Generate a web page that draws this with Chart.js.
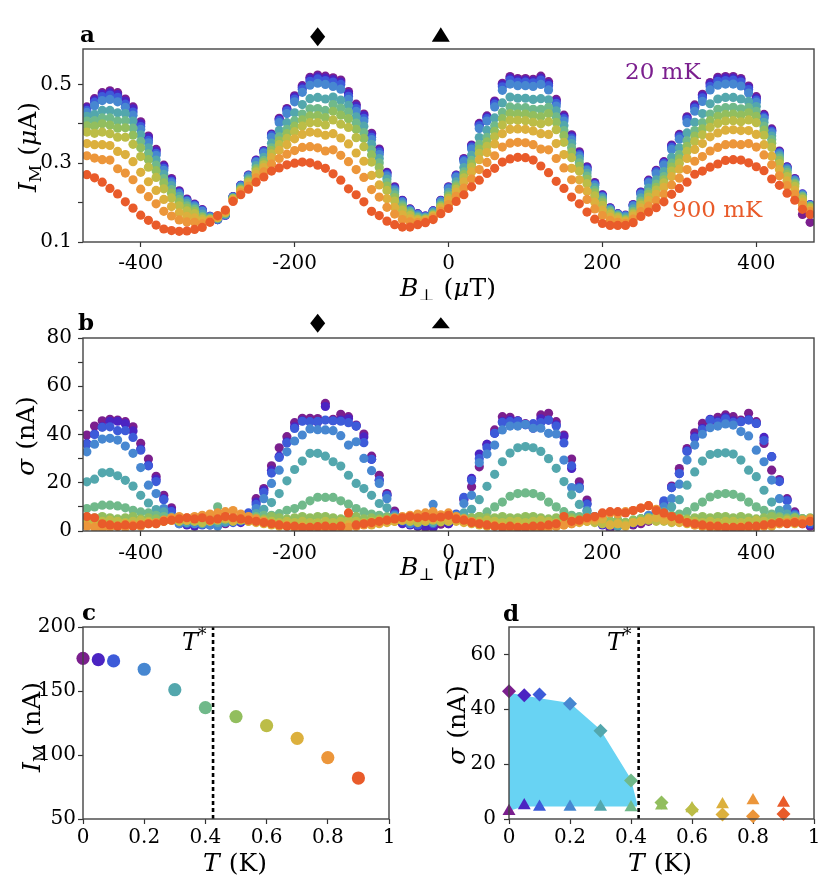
<!DOCTYPE html>
<html>
<head>
<meta charset="utf-8">
<script src="https://cdn.jsdelivr.net/npm/chart.js@4.4.1/dist/chart.umd.min.js"></script>
<style>
  html, body { margin: 0; padding: 0; background: #fff; }
  body { width: 830px; height: 887px; position: relative; overflow: hidden; }
  canvas { position: absolute; }
</style>
</head>
<body>
<canvas id="panelA" width="830" height="300" style="left:0;top:0;width:830px;height:300px"></canvas>
<canvas id="panelB" width="830" height="290" style="left:0;top:300px;width:830px;height:290px"></canvas>
<canvas id="panelC" width="410" height="297" style="left:0;top:590px;width:410px;height:297px"></canvas>
<canvas id="panelD" width="420" height="297" style="left:410px;top:590px;width:420px;height:297px"></canvas>
<script>
// field sweep (µT), shared by panels a and b
const fieldB = [-470,-460,-450,-440,-430,-420,-410,-400,-390,-380,-370,-360,-350,-340,-330,-320,-310,-300,-290,-280,
  -270,-260,-250,-240,-230,-220,-210,-200,-190,-180,-170,-160,-150,-140,-130,-120,-110,-100,-90,-80,
  -70,-60,-50,-40,-30,-20,-10,0,10,20,30,40,50,60,70,80,90,100,110,120,
  130,140,150,160,170,180,190,200,210,220,230,240,250,260,270,280,290,300,310,320,
  330,340,350,360,370,380,390,400,410,420,430,440,450,460,470];

// temperatures (mK) and their colours
const tempsMK = [20, 50, 100, 200, 300, 400, 500, 600, 700, 800, 900];
const tempsK = [0, 0.05, 0.1, 0.2, 0.3, 0.4, 0.5, 0.6, 0.7, 0.8, 0.9];
const tempColors = ['#7b1f8e', '#4b24c2', '#3d5bd9', '#4787d1', '#53a7ad', '#70b98a',
  '#92be5e', '#bcbd47', '#dcb03d', '#ec963a', '#e95b2a'];

// panel a: I_M (nA) vs B, one array per temperature
const im20 = [443,464,479,484,479,463,443,405,369,335,295,261,230,209,196,182,165,157,168,215,244,270,308,332,374,414,439,471,497,518,524,521,517,511,482,450,425,376,336,277,240,206,184,172,166,179,206,240,270,312,346,401,420,458,503,520,515,515,513,521,507,462,422,372,329,291,251,220,187,172,168,195,227,257,282,304,346,373,418,448,475,505,518,520,520,515,496,469,424,387,331,291,261,170,150];
const im50 = [440,460,475,479,474,458,438,400,365,331,292,258,228,207,195,181,165,157,168,215,244,269,307,331,372,411,436,468,493,514,519,516,512,506,477,445,421,372,333,275,238,205,183,171,166,179,205,239,269,310,344,398,417,455,499,516,511,511,509,516,502,458,418,369,326,289,249,219,186,171,167,194,226,255,280,302,344,370,415,444,471,501,514,516,516,511,492,465,421,384,329,290,260,222,195];
const im100 = [434,455,469,473,467,450,430,393,358,325,287,254,225,205,193,180,164,157,169,214,243,268,305,329,370,408,433,463,488,508,514,510,506,500,470,439,414,366,328,271,235,203,182,171,165,178,204,238,267,308,341,395,413,450,494,511,506,506,504,511,497,452,413,364,322,285,246,216,185,171,167,193,224,253,278,299,340,367,411,440,466,495,508,510,511,506,487,460,417,381,327,288,258,221,194];
const im200 = [429,446,459,462,456,442,422,386,352,320,282,250,222,203,191,178,164,158,169,214,242,267,303,326,366,403,426,456,480,498,503,500,495,488,462,432,407,360,322,267,232,201,180,169,164,177,203,235,264,304,336,388,407,443,485,501,497,497,495,500,486,445,407,359,318,282,244,214,183,170,166,191,221,250,273,295,335,361,403,432,457,486,498,501,501,496,478,455,413,377,324,286,257,220,193];
const im300 = [419,424,434,434,428,426,407,372,339,308,272,243,216,198,187,171,161,160,171,212,238,261,294,315,351,383,403,428,449,464,467,463,468,460,447,418,394,348,312,260,227,196,178,165,162,174,198,226,253,289,320,365,384,415,453,468,465,465,462,464,461,433,396,350,311,275,238,210,181,168,162,184,212,237,258,279,315,339,377,404,426,451,463,467,467,463,457,444,404,369,319,282,253,217,192];
const im400 = [407,408,415,415,407,408,389,355,324,295,261,233,208,192,183,165,159,161,173,211,235,257,287,307,339,367,386,408,425,438,439,434,449,440,430,402,378,334,301,251,220,192,174,162,160,171,193,220,245,278,307,348,366,395,429,443,441,441,437,437,442,418,383,339,301,267,231,205,178,166,158,178,204,227,247,266,300,322,357,383,403,425,437,441,442,438,441,432,394,360,313,277,249,215,190];
const im500 = [395,394,400,397,389,390,371,339,309,281,250,224,201,186,178,162,158,162,174,210,233,254,283,302,332,357,375,394,410,420,421,416,432,422,413,386,363,321,289,242,213,187,171,159,158,169,191,215,240,271,298,336,354,381,413,426,425,425,421,418,426,404,370,328,292,259,225,200,174,164,156,174,199,221,239,258,290,311,343,369,387,408,419,424,425,422,428,419,384,351,307,272,246,212,188];
const im600 = [379,376,379,375,366,366,348,317,290,264,235,212,192,179,172,158,157,162,175,209,231,251,278,296,324,347,363,380,394,403,403,397,410,399,391,365,342,303,273,231,204,181,167,157,157,167,188,211,234,263,290,325,343,367,397,409,409,408,404,400,405,385,353,314,280,248,217,193,170,161,154,171,194,214,232,250,280,300,330,355,372,391,401,407,408,405,410,403,371,340,299,266,241,208,186];
const im700 = [350,347,347,345,330,322,304,277,253,231,208,190,174,165,161,153,155,163,176,207,229,247,272,289,314,333,347,362,373,379,377,371,375,364,349,326,305,269,245,210,188,169,159,154,155,165,184,205,227,253,278,309,327,349,375,386,387,386,382,375,373,350,322,287,258,229,201,181,163,156,151,166,187,205,221,239,266,285,312,335,350,367,377,384,385,383,383,373,347,318,284,255,231,201,181];
const im800 = [319,313,309,308,286,275,258,234,215,197,178,166,156,151,150,146,153,165,179,205,225,241,263,278,298,312,323,332,340,342,339,331,334,320,304,284,264,233,214,188,171,157,151,149,152,161,178,195,216,237,260,284,302,319,341,351,353,352,347,336,334,312,288,258,234,208,184,167,155,150,147,158,177,191,205,221,245,262,284,305,317,331,340,347,349,347,350,341,321,296,268,243,221,194,177];
const im900 = [271,263,252,236,222,202,186,168,155,143,133,129,127,128,132,137,150,167,181,203,220,234,252,265,280,288,296,300,303,301,295,287,273,257,235,220,202,178,167,153,144,138,138,144,149,157,172,185,203,220,240,257,274,287,303,311,315,314,308,293,276,254,236,214,197,176,158,147,142,142,142,149,165,176,187,202,221,236,252,272,280,290,298,307,309,308,301,291,281,260,244,224,206,183,170];

// panel b: sigma (nA) vs B, one array per temperature
const sg20 = [39.8,43.5,45.7,46.3,46.0,45.3,43.2,36.3,29.8,22.7,14.8,9.6,4,3,3,3,3,2.5,3,4,4,5,13.4,17.6,27,34.5,39.1,44.9,46.7,46.7,46.6,52.9,46.3,48.4,47.4,43.9,40.2,31,23.1,15.5,8.3,4,3,2,1.5,1.5,2.8,3,5,13,18.3,26.6,35.9,41.9,47.4,47.1,45.7,44.5,43,48.1,48.8,45.3,39.8,29.8,20.4,12.8,5,3,1,2,3,2.5,3,4,6,11.1,18.6,25.9,34.2,40.7,44.6,45.3,47.1,48.1,47.4,46,48.8,45.3,36.3,25.2,21.3,13.4,7.9,3,2];
const sg50 = [36.3,40.2,43.2,45.5,45.5,44.5,41.5,34,27.3,21.5,13.4,8.6,3,2.5,2,3,2.5,3,3.5,4,3.5,6,12,16.9,25.2,31,37,43.2,45.7,45.3,45.2,51.6,45.7,46,46.5,43.5,39,29.7,21,14.8,7.2,3,2.5,2,2,1.5,4.8,3,6,13.4,21.8,31.9,35.9,40.5,45.3,46,45.7,44.2,42.6,46.5,46,44,39.1,25.9,18.3,11.4,4,2.5,2,3,2.5,3,4,5,7.9,12,18,23.8,33.3,39.1,42.6,46.3,45.7,47.1,45.7,45.3,46.3,44.6,38.8,30.8,20.8,12.8,7,3.5,2.5];
const sg100 = [36,40,43,43.2,41.6,41.6,38.8,33.5,27,20.5,13,8,4,3,3,2.5,3,3,4,3.5,4,7.5,11,16,24,30.5,36.5,42.5,45.5,45.3,45.4,46,45.7,45.5,44.9,43.5,36.6,29.7,21,14.8,7,4,3,2.5,5,3,4.4,4,7,14,21,30,34.5,40.5,45,45.3,45.5,44,44.5,44.9,46,43.5,36.5,27,18,11,6,3,2.5,2.5,3,4,5,6,8,12.5,18,23.8,33,38.5,42,46,45,46.5,45,45.3,46,44.6,37.5,30.8,20.5,12.5,7,4.5,3];
const sg200 = [32.8,36,38.1,38.4,37.7,35.2,32.2,26.3,19,15.5,9.3,6,3,4,3,3,2.5,2,3.5,4,4.5,6,9.3,13.4,19.7,25.2,32.8,37.3,39.8,42.3,42,41.9,41.6,39.5,35.6,37,30.1,25,19.7,13.4,6.5,4.5,3,4,4,11,4.4,4,6.5,11.4,14.8,28.3,31.9,35.6,41.9,43.5,43.5,44.2,42.6,42.6,40.5,40.2,29.4,18,17.6,8.6,5,3,3.5,2,3,3.5,4.5,6.5,7,10,13.4,19.4,29.4,35.6,40.1,42.8,43.5,44.4,43.9,41.2,39.4,33.5,28.7,21.1,13.4,9.3,6.5,5,4];
const sg300 = [20.4,21.5,24.1,24.3,22.9,21,18.6,14.8,11.6,8.9,7.9,5,4,3.5,4,3,4,3.5,4,4.5,5,5.5,7.2,9,11.8,15.5,20.8,25.5,29,32.2,32.2,31,28.7,26.9,23.1,19.7,17.6,14.8,11.4,9.6,6,5,4,4.5,4,3.5,4.4,5,6,7.5,9,13,18.5,23.5,28.7,32.3,34.5,35,34.5,33,30,26,20.5,15,11,8,6,4,4,2,3,4,5,5.5,6,8,10,13,19,24.5,29,31.7,32.2,32.4,31.9,29.4,25.2,22.5,16.9,12,8.6,7,6,5,4.5];
const sg400 = [9.3,10,10.7,10.7,10.4,9.6,8.6,7.9,7.5,6.5,6,5.5,5.5,5,5.5,5,6,10,5.5,5,5.5,5.5,6,6.5,6.5,7.2,8.6,9.3,10.7,12.5,14,13.9,13.9,12.5,11.1,9.3,7.9,7,6.5,6,5.5,5.5,5,5,5.5,6,4.2,5,5.5,5.5,5.5,6,7.9,10,12,14.4,15.5,15.8,15.5,14.4,12,10,8,6.5,6,5.5,5.5,5,4,4.5,3.5,4.5,5,5.5,6,6.5,6.5,7,8,10,12,14.1,15.2,15.5,15.2,14.1,12,10,8.6,7,6,5.5,5.5,5,5];
const sg500 = [5,5.5,6,5.5,5,5.5,6,5,5.5,5,4.5,5,5,4.5,5.5,6,5,5.5,5,4.5,5,5.5,5.5,5,6,5.5,5,5.5,6,5.5,6,6,5.5,5,5.5,6,5,5.5,5,5.5,5,5,5.5,6,5.5,5,4.8,6,5.5,5,5.5,6,5.5,5.5,6,5.5,5.5,6,6,5.5,5,5.5,6,5.5,5,5.5,5,5.5,4,4.5,3.5,4.5,5,5.5,5,5.5,6,5.5,5,5.5,6,5.5,6,6,5.5,6,5.5,5,5.5,6,5.5,5,5.5,5,5.5];
const sg600 = [4,3.5,4,4.5,4,3.5,4,4.5,4,3.5,4,4.5,4,4.5,4,3.5,4,4.5,5,4,4.5,4,4,4.5,4,3.5,4,3.5,4,3.5,3.4,4,3.5,4,4.5,4,3.5,4,4.5,4,4,4.5,4,3.5,4,4.5,3.8,4,4.5,4,3.5,4,4.5,4,3.5,4,4,3.5,4,4.5,4,3.5,4,4.5,4,4,3.5,3,2.5,3,2.5,3.5,4,4.5,4,4,3.5,4,4.5,4,3.5,4,3.5,4,4,3.5,4,4.5,4,3.5,4,4.5,4,3.5,4];
const sg700 = [2.5,2,3,2.5,2,3,2.5,3,3.5,3,4,4.5,5,4.5,5,5.5,4.5,5,5.5,4.5,5,4,3.5,3,2.5,2,2.5,1.5,2,1.5,1.6,2,1.5,2,2.5,2,3,2.5,3,3.5,4,4.5,5,5.5,4.5,5,5.3,4.5,4,3.5,3,2.5,2,2.5,2,1.5,2,1.5,1.5,2,2.5,2,2.5,3,3.5,4,4.5,5,2.5,3,2,3.5,4,5,5.5,4.5,4,3.5,3,2.5,2,2.5,2,1.5,1.5,2,1.5,2,2.5,2,3,3.5,3,3.5,4];
const sg800 = [2,1.5,1,1.5,2,1.5,2.5,2,3,3.5,4.5,5.5,6,5.5,6,6.5,7,7.5,8,8.5,7,6,5,4,3,2.5,2,1.5,1,1.5,1,1,1.5,1,1.5,2,2.5,3,3.5,4.5,5.5,6,6.5,7,7.5,8,6.7,7.5,6,5,4,3,2.5,2,1.5,1,1,1.5,1,1,1.5,2,2.5,3,4,5,5.5,7,7.5,7,8,8.5,9.5,10.5,9,7,6,5,3.5,2.5,2,1.5,1,1,1.5,1,1,1.5,2,2.5,3,3.5,4,4.5,5];
const sg900 = [6,5.5,3,2.5,2,2.5,2,2.5,3,3,4,4.5,5,5.5,5,5.5,4.5,5,6,5.5,5,4.5,4,3.5,3,2.5,2,2,1.5,1.5,1.8,2,1.5,2,7.5,2.5,3,3.5,4,4.5,5,5.5,6,5.5,6,5.5,5.8,6.5,5,4.5,3.5,3,2.5,2,1.5,2,1.5,1.5,2,2,2.5,3,6,4,4.5,5.5,6,7.5,8,8,7.5,8.5,9.5,10.5,8.5,7.5,6,5,3.5,3,2.5,2,2,1.5,1.5,1.5,2,2,2.5,3,3.5,3,3.5,3,4];

// panel c: mean current vs T (nA)
const imVsT = [175.5, 174.5, 173.5, 167, 151, 137, 130, 123, 113, 98, 82];
// panel d: sigma at the diamond field and at the triangle field (nA)
const sigmaDiamond = [46.6, 45.1, 45.4, 42, 32.2, 14, 6, 3.4, 1.6, 1, 1.8];
const sigmaTriangle = [2.8, 4.9, 4.4, 4.4, 4.4, 4.2, 4.8, 3.8, 5.3, 6.7, 5.8];
// shaded band in panel d
const bandT = [0, 0.05, 0.1, 0.2, 0.3, 0.4, 0.42];
const bandHigh = [46, 45, 44, 42.3, 32.5, 14.5, 5.6];
const bandLow = [3, 4.6, 4.6, 4.6, 4.6, 4.6, 4.6];
const tStar = 0.425;
const diamondField = -170;
const triangleField = -10;

// ticks
const fieldTicks = [-400, -200, 0, 200, 400];
const imTicks = [0.1, 0.2, 0.3, 0.4, 0.5];
const imTickLabels = [0.1, 0.3, 0.5];
const sigmaTicks = [0, 10, 20, 30, 40, 50, 60, 70, 80];
const sigmaTickLabels = [0, 20, 40, 60, 80];
const tTicks = [0, 0.2, 0.4, 0.6, 0.8, 1];
const imTTicks = [50, 100, 150, 200];
const sigmaTTicks = [0, 20, 40, 60];

const SERIF = '"DejaVu Serif", "Liberation Serif", serif';
const font = (style, size) => `${style} ${size}px ${SERIF}`;

function scaleOpts(o) {
  return {
    type: 'linear',
    min: o.min,
    max: o.max,
    afterBuildTicks: (s) => { s.ticks = o.ticks.map((v) => ({ value: v })); },
    afterFit: (s) => { if (o.horizontal) s.height = o.fit; else s.width = o.fit; },
    ticks: {
      autoSkip: false,
      maxRotation: 0,
      color: '#000',
      font: { family: SERIF, size: o.fontSize || 20 },
      padding: o.pad,
      callback: (v) => (!o.labels || o.labels.includes(v) ? String(v) : ''),
    },
    grid: { drawOnChartArea: false, drawTicks: true, tickLength: 5, tickColor: '#333', tickWidth: 1.2 },
    border: { display: false },
  };
}

function dotSet(xs, ys, color, order, radius) {
  return {
    data: xs.map((x, i) => ({ x, y: ys[i] })),
    pointRadius: radius,
    pointHoverRadius: radius,
    pointBackgroundColor: color,
    pointBorderColor: color,
    pointBorderWidth: 0,
    order,
  };
}

function richWidth(ctx, parts) {
  let w = 0;
  for (const p of parts) { ctx.font = p.f; w += ctx.measureText(p.t).width + (p.gap || 0); }
  return w;
}
function drawRich(ctx, parts, x, y, center) {
  let cx = center ? x - richWidth(ctx, parts) / 2 : x;
  ctx.textAlign = 'left';
  ctx.textBaseline = 'alphabetic';
  for (const p of parts) {
    ctx.font = p.f;
    ctx.fillText(p.t, cx, y + (p.dy || 0));
    cx += ctx.measureText(p.t).width + (p.gap || 0);
  }
}
function drawRotated(ctx, parts, x, y) {
  ctx.save();
  ctx.translate(x, y);
  ctx.rotate(-Math.PI / 2);
  drawRich(ctx, parts, 0, 0, true);
  ctx.restore();
}

const bTitle = [
  { t: 'B', f: font('italic', 25) }, { t: '⊥', f: font('normal', 17), dy: 5, gap: 9 },
  { t: '(', f: font('normal', 25) }, { t: 'μ', f: font('italic', 25) }, { t: 'T)', f: font('normal', 25) },
];
const tTitle = [{ t: 'T', f: font('italic', 25), gap: 9 }, { t: '(K)', f: font('normal', 25) }];
const sigmaTitle = [{ t: 'σ', f: font('italic', 25), gap: 9 }, { t: '(nA)', f: font('normal', 25) }];
const imTitleMicro = [
  { t: 'I', f: font('italic', 25) }, { t: 'M', f: font('normal', 17), dy: 5, gap: 9 },
  { t: '(', f: font('normal', 25) }, { t: 'μ', f: font('italic', 25) }, { t: 'A)', f: font('normal', 25) },
];
const imTitleNano = [
  { t: 'I', f: font('italic', 25) }, { t: 'M', f: font('normal', 17), dy: 5, gap: 9 },
  { t: '(nA)', f: font('normal', 25) },
];
const tStarLabel = [{ t: 'T', f: font('italic', 24) }, { t: '*', f: font('normal', 17), dy: -10 }];

function framePlugin(id, decorate) {
  return {
    id,
    afterDatasetsDraw(chart) {
      const { ctx, chartArea: a } = chart;
      ctx.save();
      ctx.strokeStyle = '#444';
      ctx.lineWidth = 1.4;
      ctx.strokeRect(a.left, a.top, a.right - a.left, a.bottom - a.top);
      ctx.restore();
    },
    afterDraw(chart) {
      const ctx = chart.ctx;
      ctx.save();
      ctx.fillStyle = '#000';
      decorate(chart, ctx);
      ctx.restore();
    },
  };
}

function fieldMarkers(chart, ctx, diamondY, triApex, triBase) {
  const xs = chart.scales.x;
  const dx = xs.getPixelForValue(diamondField);
  ctx.beginPath();
  ctx.moveTo(dx, diamondY - 9.5);
  ctx.lineTo(dx + 7.5, diamondY);
  ctx.lineTo(dx, diamondY + 9.5);
  ctx.lineTo(dx - 7.5, diamondY);
  ctx.closePath();
  ctx.fill();
  const tx = xs.getPixelForValue(triangleField);
  ctx.beginPath();
  ctx.moveTo(tx, triApex);
  ctx.lineTo(tx + 9, triBase);
  ctx.lineTo(tx - 9, triBase);
  ctx.closePath();
  ctx.fill();
}

const common = {
  responsive: false,
  animation: false,
  events: [],
  plugins: { legend: { display: false }, tooltip: { enabled: false } },
};

const imSeries = [im20, im50, im100, im200, im300, im400, im500, im600, im700, im800, im900];
const sgSeries = [sg20, sg50, sg100, sg200, sg300, sg400, sg500, sg600, sg700, sg800, sg900];

// ---- panel a ----
new Chart(document.getElementById('panelA'), {
  type: 'scatter',
  data: {
    datasets: imSeries.map((s, i) =>
      dotSet(fieldB, s.map((v) => v / 1000), tempColors[i], tempsMK.length - i, 4.6)),
  },
  options: {
    ...common,
    layout: { padding: { left: 0, right: 16, top: 49, bottom: 0 } },
    scales: {
      x: scaleOpts({ min: -475, max: 475, ticks: fieldTicks, horizontal: true, fit: 58, pad: 5 }),
      y: scaleOpts({ min: 0.1, max: 0.59, ticks: imTicks, labels: imTickLabels, fit: 83, pad: 6 }),
    },
  },
  plugins: [framePlugin('frameA', (chart, ctx) => {
    ctx.font = font('bold', 23);
    ctx.fillText('a', 80, 42);
    fieldMarkers(chart, ctx, 36.7, 27.3, 41.7);
    drawRich(ctx, bTitle, 448, 296, true);
    drawRotated(ctx, imTitleMicro, 36, 147);
    ctx.font = font('normal', 23);
    ctx.fillStyle = tempColors[0];
    ctx.fillText('20 mK', 625, 79);
    ctx.fillStyle = tempColors[10];
    ctx.fillText('900 mK', 672, 217);
  })],
});

// ---- panel b ----
new Chart(document.getElementById('panelB'), {
  type: 'scatter',
  data: {
    datasets: sgSeries.map((s, i) => dotSet(fieldB, s, tempColors[i], tempsMK.length - i, 4.6)),
  },
  options: {
    ...common,
    layout: { padding: { left: 0, right: 16, top: 38, bottom: 0 } },
    scales: {
      x: scaleOpts({ min: -475, max: 475, ticks: fieldTicks, horizontal: true, fit: 59, pad: 6 }),
      y: scaleOpts({ min: 0, max: 80, ticks: sigmaTicks, labels: sigmaTickLabels, fit: 83, pad: 6 }),
    },
  },
  plugins: [framePlugin('frameB', (chart, ctx) => {
    ctx.font = font('bold', 23);
    ctx.fillText('b', 78, 30);
    fieldMarkers(chart, ctx, 23.3, 17.3, 28.3);
    drawRich(ctx, bTitle, 448, 275, true);
    drawRotated(ctx, sigmaTitle, 34, 136);
  })],
});

function tStarLine(ymin, ymax) {
  return {
    data: [{ x: tStar, y: ymin }, { x: tStar, y: ymax }],
    showLine: true,
    borderColor: '#000',
    borderWidth: 2.6,
    borderDash: [4, 3],
    pointRadius: 0,
    fill: false,
    order: 5,
  };
}

// ---- panel c ----
new Chart(document.getElementById('panelC'), {
  type: 'scatter',
  data: {
    datasets: [
      tStarLine(50, 200),
      { ...dotSet(tempsK, imVsT, tempColors, 0, 6.6), clip: false },
    ],
  },
  options: {
    ...common,
    layout: { padding: { left: 0, right: 21, top: 37, bottom: 0 } },
    scales: {
      x: scaleOpts({ min: 0, max: 1, ticks: tTicks, horizontal: true, fit: 68, pad: 2 }),
      y: scaleOpts({ min: 50, max: 200, ticks: imTTicks, fit: 83, pad: 2 }),
    },
  },
  plugins: [framePlugin('frameC', (chart, ctx) => {
    ctx.font = font('bold', 23);
    ctx.fillText('c', 82, 30);
    drawRich(ctx, tStarLabel, 182, 60, false);
    drawRich(ctx, tTitle, 235, 281, true);
    drawRotated(ctx, imTitleNano, 40, 137);
  })],
});

// ---- panel d ----
new Chart(document.getElementById('panelD'), {
  type: 'scatter',
  data: {
    datasets: [
      { data: bandT.map((t, i) => ({ x: t, y: bandLow[i] })), showLine: true, borderWidth: 0, pointRadius: 0, fill: false, order: 10 },
      { data: bandT.map((t, i) => ({ x: t, y: bandHigh[i] })), showLine: true, borderWidth: 0, pointRadius: 0, fill: '-1', backgroundColor: 'rgb(104, 211, 243)', order: 9 },
      tStarLine(0, 70),
      { ...dotSet(tempsK, sigmaDiamond, tempColors, 1, 7), pointStyle: 'rectRot', clip: false },
      { ...dotSet(tempsK, sigmaTriangle, tempColors, 0, 7.5), pointStyle: 'triangle', clip: false },
    ],
  },
  options: {
    ...common,
    layout: { padding: { left: 0, right: 16, top: 37, bottom: 0 } },
    scales: {
      x: scaleOpts({ min: 0, max: 1, ticks: tTicks, horizontal: true, fit: 68, pad: 2 }),
      y: scaleOpts({ min: 0, max: 70, ticks: sigmaTTicks, fit: 99, pad: 8 }),
    },
  },
  plugins: [framePlugin('frameD', (chart, ctx) => {
    ctx.font = font('bold', 23);
    ctx.fillText('d', 93, 31);
    drawRich(ctx, tStarLabel, 197, 60, false);
    drawRich(ctx, tTitle, 250, 281, true);
    drawRotated(ctx, sigmaTitle, 55, 135);
  })],
});
</script>
</body>
</html>
